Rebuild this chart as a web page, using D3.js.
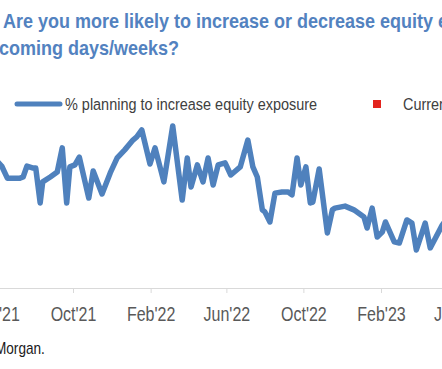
<!DOCTYPE html>
<meta charset="utf-8">
<style>
body { margin: 0; background: #fff; }
svg { display: block; font-family: "Liberation Sans", Arial, sans-serif; }
.axis path, .axis line { stroke: #d9d9d9; }
.axis text { fill: #595959; font-size: 20px; }
</style>
<body>
<svg width="442" height="369"></svg>
<script src="https://d3js.org/d3.v7.min.js"></script>
<script>
// survey dates and % planning to increase equity exposure
var dates = ["2021-06-01","2021-06-10","2021-06-19","2021-07-09","2021-07-14","2021-07-20","2021-07-30","2021-08-03",
  "2021-08-10","2021-08-14","2021-08-26","2021-09-06","2021-09-14","2021-09-21","2021-09-26","2021-10-04",
  "2021-10-11","2021-10-26","2021-11-02","2021-11-16","2021-11-29","2021-12-10","2021-12-22","2022-01-04",
  "2022-01-10","2022-01-18","2022-01-31","2022-02-08","2022-02-22","2022-03-08","2022-03-23","2022-03-31",
  "2022-04-06","2022-04-16","2022-04-25","2022-05-03","2022-05-11","2022-05-19","2022-05-30","2022-06-08",
  "2022-06-23","2022-07-05","2022-07-13","2022-07-20","2022-07-28","2022-08-01","2022-08-09","2022-08-17",
  "2022-08-28","2022-09-07","2022-09-13","2022-09-21","2022-09-27","2022-10-05","2022-10-12","2022-10-16",
  "2022-10-26","2022-11-08","2022-11-16","2022-11-20","2022-12-06","2022-12-20","2023-01-05","2023-01-10",
  "2023-01-18","2023-01-26","2023-02-03","2023-02-08","2023-02-22","2023-03-02","2023-03-14","2023-03-22",
  "2023-03-29","2023-04-12","2023-04-20","2023-05-09","2023-05-15"];
var pctIncrease = [44.4,42.3,38.1,38.1,38.5,42.3,41.6,41.6,
  29.5,36.8,38.5,40.2,48.6,29.5,42.0,42.7,
  45.4,31.2,40.6,32.6,39.9,45.1,47.9,51.3,
  52.4,54.8,43.0,48.6,36.8,56.2,30.5,45.1,
  35.0,42.7,36.8,45.1,35.7,42.7,43.4,39.2,
  42.0,51.3,42.0,38.5,27.1,26.4,22.9,32.9,
  33.3,33.3,32.3,45.1,35.7,42.0,29.5,29.8,
  41.3,19.1,27.1,27.7,28.4,27.1,24.6,20.8,
  27.7,17.7,19.4,22.9,16.0,15.6,23.6,22.5,
  13.2,22.5,13.9,21.8,23.6];
var tickDates = ["2021-06-01","2021-10-01","2022-02-01","2022-06-01","2022-10-01","2023-02-01","2023-06-01"];
var tickLabels = ["Jun'21","Oct'21","Feb'22","Jun'22","Oct'22","Feb'23","Jun'23"];
var titleLines = ["Are you more likely to increase or decrease equity exposure in the", "coming days/weeks?"];
var legendLabels = ["% planning to increase equity exposure", "Current week"];
var sourceText = "Source: J.P. Morgan.";

var parse = d3.timeParse("%Y-%m-%d");
var data = dates.map(function(d, i) { return {date: parse(d), value: pctIncrease[i]}; });

var svg = d3.select("svg");

var x = d3.scaleTime()
    .domain([parse("2021-10-01"), parse("2023-02-01")])
    .range([73, 381]);

var y = d3.scaleLinear()
    .domain([0, 60])
    .range([288, 115]);

// title
svg.selectAll(".title")
  .data(titleLines)
  .enter().append("text")
    .attr("class", "title")
    .attr("transform", function(d, i) { return "translate(" + (i ? -1 : 3) + "," + (28 + i * 27) + ") scale(0.9,1)"; })
    .style("font-size", "20px")
    .style("font-weight", "bold")
    .style("fill", "#5282c0")
    .text(function(d) { return d; });

// legend
var legend = svg.append("g");
legend.append("line")
    .attr("x1", 17).attr("x2", 60)
    .attr("y1", 104).attr("y2", 104)
    .attr("stroke", "#4f81bd")
    .attr("stroke-width", 5)
    .attr("stroke-linecap", "round");
legend.append("rect")
    .attr("x", 373).attr("y", 100)
    .attr("width", 8).attr("height", 8)
    .attr("fill", "#e3241e");
legend.selectAll("text")
  .data(legendLabels)
  .enter().append("text")
    .attr("transform", function(d, i) { return "translate(" + (i ? 403 : 65) + ",110) scale(0.85,1)"; })
    .style("font-size", "17px")
    .style("fill", "#404040")
    .text(function(d) { return d; });

// x axis
svg.append("g")
    .attr("class", "axis")
    .attr("transform", "translate(0,288)")
    .call(d3.axisBottom(x)
        .tickValues(tickDates.map(parse))
        .tickFormat(function(d, i) { return tickLabels[i]; })
        .tickSize(5)
        .tickSizeOuter(0)
        .tickPadding(14))
  .call(function(g) {
    g.select(".domain").attr("d", "M-10,0.5H460");
    g.selectAll("text").attr("transform", "scale(0.8,1)");
  });

// line
var line = d3.line()
    .x(function(d) { return x(d.date); })
    .y(function(d) { return y(d.value); });

svg.append("path")
    .datum(data)
    .attr("fill", "none")
    .attr("stroke", "#4f81bd")
    .attr("stroke-width", 5.5)
    .attr("stroke-linejoin", "round")
    .attr("d", line);

// source
svg.append("text")
    .attr("transform", "translate(" + (-81) + ",354) scale(0.85,1)")
    .style("font-size", "16px")
    .style("fill", "#1a1a1a")
    .text(sourceText);
</script>
</body>
